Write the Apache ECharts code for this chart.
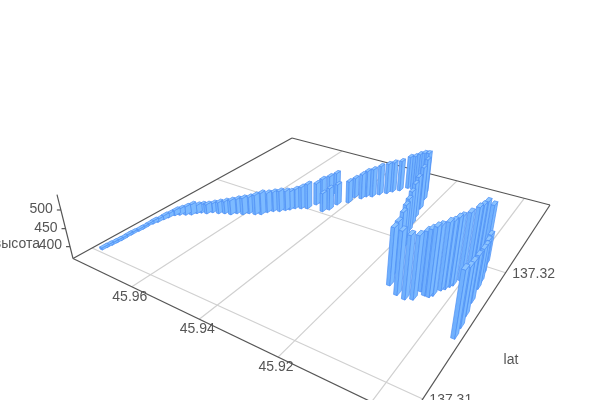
<!doctype html><html><head><meta charset="utf-8"><style>html,body{margin:0;background:#fff}#c{width:600px;height:400px}</style>
<script src="https://cdn.jsdelivr.net/npm/echarts@6/dist/echarts.min.js"></script></head><body><div id="c"></div>
<script>
const lonValues=[45.9778,45.9777,45.9775,45.9774,45.9773,45.9774,45.9773,45.9771,45.9770,45.9771,45.9768,45.9764,45.9761,45.9758,45.9752,45.9743,45.9730,45.9718,45.9711,45.9703,45.9688,45.9679,45.9662,45.9648,45.9631,45.9621,45.9604,45.9594,45.9577,45.9564,45.9557,45.9547,45.9533,45.9523,45.9515,45.9507,45.9493,45.9479,45.9471,45.9461,45.9460,45.9460,45.9436,45.9426,45.9423,45.9403,45.9404,45.9385,45.9379,45.9365,45.9354,45.9340,45.9331,45.9317,45.9304,45.9289,45.9274,45.9259,45.9249,
45.9236,45.9223,45.9214,45.9206,45.9198,45.9187,45.9175,45.9163,45.9143,45.9131,45.9102,45.9081,45.9066,45.9064,45.9051,45.9041,45.9036,45.9029,45.9023,45.9018,45.9014,45.9006,45.8999,45.8996,45.8993,45.8986,45.8981,45.8973,45.8967,45.8964,45.8958,45.8952,45.8947,45.8945];
const latValues=[137.3104,137.3107,137.3110,137.3113,137.3116,137.3120,137.3123,137.3128,137.3131,137.3135,137.3138,137.3141,137.3145,137.3148,137.3152,137.3154,137.3156,137.3158,137.3161,137.3163,137.3164,137.3167,137.3168,137.3170,137.3171,137.3174,137.3175,137.3178,137.3179,137.3181,137.3185,137.3188,137.3190,137.3193,137.3195,137.3198,137.3200,137.3202,137.3209,137.3212,137.3220,137.3228,137.3204,137.3208,137.3216,137.3222,137.3230,137.3231,137.3235,137.3237,137.3242,137.3246,137.3250,137.3254,137.3260,137.3260,137.3259,137.3258,137.3259,
137.3251,137.3239,137.3228,137.3220,137.3212,137.3203,137.3194,137.3185,137.3170,137.3160,137.3155,137.3154,137.3156,137.3164,137.3162,137.3162,137.3164,137.3170,137.3172,137.3175,137.3177,137.3183,137.3190,137.3194,137.3198,137.3204,137.3204,137.3194,137.3187,137.3181,137.3169,137.3158,137.3149,137.3141];
const heightValues=[372,372,372,372,372,372,372,372,372,372,375,375,378,378,382,385,391,397,391,391,394,394,400,403,409,410,416,416,425,431,425,425,428,425,422,425,432,441,432,442,436,431,422,432,429,432,427,442,446,452,456,459,459,460,466,472,484,493,493,
491,492,487,485,481,482,488,492,507,519,532,531,531,523,537,546,546,543,543,546,546,545,545,543,544,525,448,460,466,473,489,504,518,534];
const lonTicks=[45.96,45.94,45.92,45.90];
const latTicks=[137.31,137.32];
const heightTicks=[400,450,500];
const latName='lat',heightName='высота';

// Camera: a perspective view of the box, fitted to the picture
const M={a:215.32,b:354.37,c:73,d:37.57,e:-56.52,f:258.5,g:-0.29507,h:0.46359,vx:313,vy:1218,k:-0.0625};
const lonEnds=[45.9802,45.8929],latEnds=[137.30879,137.32855],hEnds=[366,540];
const barLon=0.00042,barLat=0.00023;
function norm(v,e){return (v-e[0])/(e[1]-e[0]);}
function proj(lon,lat,hgt){
  const u=norm(lon,lonEnds),v=norm(lat,latEnds),z=norm(hgt,hEnds)*M.k;
  const w=M.g*u+M.h*v+1+z;
  return [(M.a*u+M.b*v+M.c+z*M.vx)/w,(M.d*u+M.e*v+M.f+z*M.vy)/w];
}
function depth(lon,lat){return M.g*norm(lon,lonEnds)+M.h*norm(lat,latEnds)+1;}
const rows=lonValues.map((l,i)=>[l,latValues[i],heightValues[i]]).sort((p,q)=>depth(q[0],q[1])-depth(p[0],p[1]));
const lonA=lonEnds[0],lonB=lonEnds[1],latA=latEnds[0],latB=latEnds[1],h0=hEnds[0],h1=hEnds[1];
const GRID='#d0d0d0',AX='#555',TXT='#555';
function seg(p,q,color,w){return {type:'line',shape:{x1:p[0],y1:p[1],x2:q[0],y2:q[1]},style:{stroke:color,lineWidth:w||1.2},silent:true};}
function txt(x,y,s,align){return {type:'text',style:{x,y,text:s,fill:TXT,font:'14px "Liberation Sans", Arial, sans-serif',align:align||'center',verticalAlign:'middle'},silent:true};}
function frame(){
  const ch=[];
  lonTicks.forEach(t=>ch.push(seg(proj(t,latA,h0),proj(t,latB,h0),GRID)));
  latTicks.forEach(t=>ch.push(seg(proj(lonA,t,h0),proj(lonB,t,h0),GRID)));
  const A=proj(lonA,latA,h0),B=proj(lonA,latB,h0),C=proj(lonB,latB,h0),D=proj(lonB,latA,h0);
  ch.push(seg(A,B,AX),seg(B,C,AX),seg(C,D,AX),seg(D,A,AX),seg(A,proj(lonA,latA,h1),AX));
  heightTicks.forEach(t=>{const p=proj(lonA,latA,t);ch.push(seg(p,[p[0]-4,p[1]],AX));ch.push(txt(p[0]-8,p[1]-1,String(t),'right'));});
  lonTicks.forEach(t=>{const p=proj(t,latA,h0);if(p[1]<400)ch.push(txt(p[0]-2,p[1]+10,t.toFixed(2)));});
  latTicks.forEach(t=>{const p=proj(lonB,t,h0);ch.push(txt(p[0]+28,p[1]+1,t.toFixed(2)));});
  ch.push(txt(40,244,heightName,'right'));
  ch.push(txt(511,360,latName));
  return {type:'group',children:ch};
}
const SIDE1='#70b0fd',SIDE2='#7cbaff',TOP='#8cc4ff',EDGE='#4d8ff5';
function face(points,fill){return {type:'polygon',shape:{points},style:{fill,stroke:EDGE,lineWidth:0.7,lineJoin:'round'},silent:true};}
function bar(params,api){
  const lo=api.value(0),la=api.value(1),t=api.value(2);
  const L0=lo+barLon,L1=lo-barLon,A0=la-barLat,A1=la+barLat;
  const b=(x,y)=>proj(x,y,h0),p=(x,y)=>proj(x,y,t);
  return {type:'group',children:[
    face([b(L0,A0),b(L1,A0),p(L1,A0),p(L0,A0)],SIDE1),
    face([b(L1,A0),b(L1,A1),p(L1,A1),p(L1,A0)],SIDE2),
    face([p(L0,A0),p(L1,A0),p(L1,A1),p(L0,A1)],TOP)
  ]};
}
const chart=echarts.init(document.getElementById('c'),null,{renderer:'canvas'});
chart.setOption({animation:false,series:[
  {type:'custom',coordinateSystem:'none',data:[0],renderItem:frame,silent:true,z:1,clip:false},
  {type:'custom',coordinateSystem:'none',data:rows,dimensions:['lon','lat','height'],renderItem:bar,silent:true,z:2,clip:false}
]});
</script></body></html>
